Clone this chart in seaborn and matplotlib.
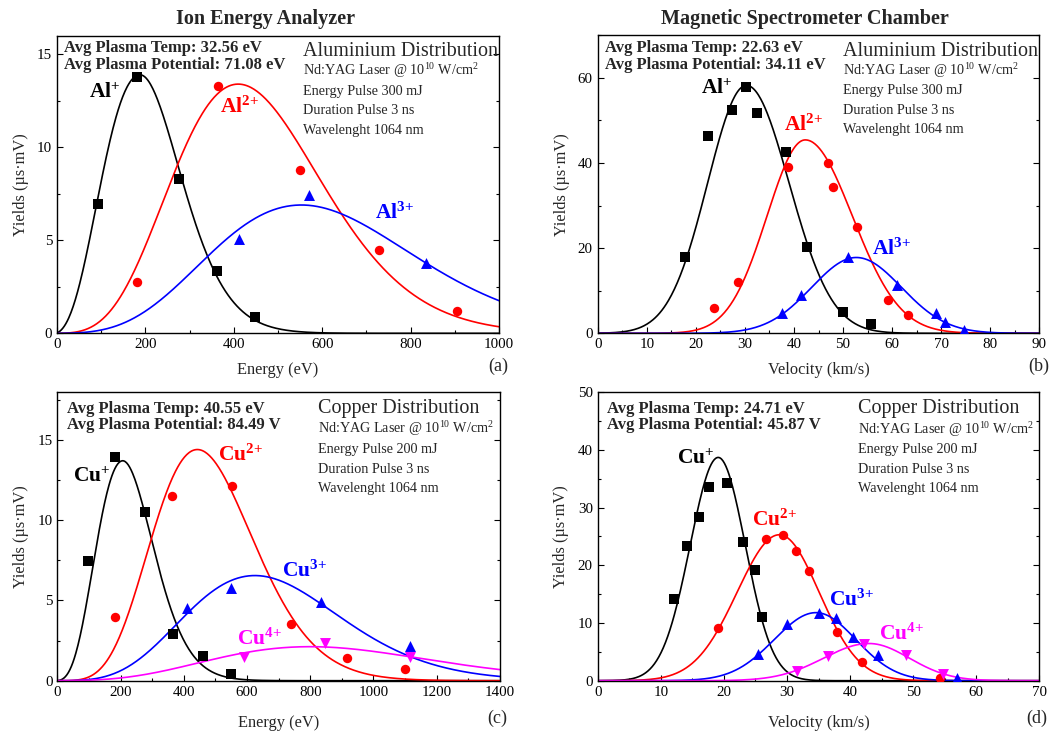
import numpy as np
import pandas as pd
import matplotlib
matplotlib.use('Agg')
import matplotlib.pyplot as plt
from matplotlib.ticker import MultipleLocator
import seaborn as sns

sns.set_theme(style="ticks")
plt.rcParams['font.family'] = ['Liberation Serif', 'DejaVu Serif']
plt.rcParams['mathtext.fontset'] = 'custom'
plt.rcParams['mathtext.rm'] = 'Liberation Serif'
plt.rcParams['mathtext.it'] = 'Liberation Serif:italic'
plt.rcParams['mathtext.bf'] = 'Liberation Serif:bold'

# (a) Ion energy analyzer, aluminium  -- measured points
ie_al1_E = [93, 181, 275, 361, 448]
ie_al1_Y = [6.93, 13.76, 8.3, 3.35, 0.88]
ie_al2_E = [181, 365, 550, 729, 904]
ie_al2_Y = [2.76, 13.28, 8.8, 4.49, 1.18]
ie_al3_E = [411, 571, 834]
ie_al3_Y = [5.07, 7.43, 3.78]
# fit curves: peak position, peak height, width left, width right (in sqrt(E))
ie_al1_fit = [188, 13.9, 3.6, 3.05]
ie_al2_fit = [410, 13.4, 4.22, 4.22]
ie_al3_fit = [553, 6.9, 5.0, 4.9]

# (b) Magnetic spectrometer, aluminium
ms_al1_v = [17.7, 22.4, 27.3, 30.2, 32.5, 38.3, 42.6, 50.0, 55.7]
ms_al1_Y = [17.8, 46.2, 52.4, 57.9, 51.8, 42.6, 20.3, 4.9, 2.2]
ms_al2_v = [23.7, 28.5, 38.8, 46.9, 47.9, 52.8, 59.1, 63.2]
ms_al2_Y = [6.0, 12.1, 39.0, 40.0, 34.3, 24.9, 7.8, 4.3]
ms_al3_v = [37.6, 41.5, 51.1, 60.9, 69.0, 70.8, 74.6]
ms_al3_Y = [4.7, 8.9, 17.8, 11.3, 4.7, 2.7, 0.8]
ms_al1_fit = [30.3, 58.2, 7.9, 8.7]
ms_al2_fit = [42.3, 45.4, 7.8, 9.6]
ms_al3_fit = [52.7, 17.8, 9.1, 9.2]

# (c) Ion energy analyzer, copper
ie_cu1_E = [97, 183, 276, 367, 461, 550]
ie_cu1_Y = [7.44, 13.92, 10.49, 2.89, 1.56, 0.39]
ie_cu2_E = [183, 364, 551, 738, 915, 1100]
ie_cu2_Y = [3.97, 11.51, 12.11, 3.51, 1.41, 0.73]
ie_cu3_E = [409, 548, 835, 1116]
ie_cu3_Y = [4.55, 5.8, 4.92, 2.16]
ie_cu4_E = [589, 847, 1116]
ie_cu4_Y = [1.45, 2.37, 1.5]
ie_cu1_fit = [207, 13.7, 3.3, 3.05]
ie_cu2_fit = [443, 14.4, 3.85, 3.85]
ie_cu3_fit = [625, 6.55, 5.0, 4.9]
ie_cu4_fit = [800, 2.12, 6.3, 6.1]

# (d) Magnetic spectrometer, copper
ms_cu1_v = [12.1, 14.2, 16.0, 17.6, 20.5, 23.1, 25.0, 26.1]
ms_cu1_Y = [14.2, 23.3, 28.3, 33.5, 34.3, 24.0, 19.2, 11.0]
ms_cu2_v = [19.1, 26.6, 29.3, 31.4, 33.5, 38.0, 41.9, 54.3]
ms_cu2_Y = [9.2, 24.5, 25.3, 22.5, 19.0, 8.5, 3.2, 0.4]
ms_cu3_v = [25.4, 30.0, 35.0, 37.8, 40.5, 44.4, 56.9]
ms_cu3_Y = [4.6, 9.8, 11.7, 10.9, 7.6, 4.5, 0.4]
ms_cu4_v = [31.6, 36.5, 42.2, 48.9, 54.7]
ms_cu4_Y = [1.6, 4.3, 6.4, 4.4, 1.2]
ms_cu1_fit = [19.1, 38.7, 4.45, 4.3]
ms_cu2_fit = [28.8, 25.3, 6.7, 6.3]
ms_cu3_fit = [34.6, 11.8, 6.6, 6.3]
ms_cu4_fit = [43.0, 6.45, 7.2, 6.4]

al_info = ['Aluminium Distribution', r'Nd:YAG Laser @ 10$^{\mathrm{10}}$ W/cm$^{\mathrm{2}}$',
           'Energy Pulse 300 mJ', 'Duration Pulse 3 ns', 'Wavelenght 1064 nm']
cu_info = ['Copper Distribution', r'Nd:YAG Laser @ 10$^{\mathrm{10}}$ W/cm$^{\mathrm{2}}$',
           'Energy Pulse 200 mJ', 'Duration Pulse 3 ns', 'Wavelenght 1064 nm']
charges = ['{+}', '2{+}', '3{+}', '4{+}']

COLORS = ['black', '#ff0000', '#0000ff', '#ff00ff']
MARKERS = ['s', 'o', '^', 'v']
MSIZE = {'s': 52, 'o': 46, '^': 62, 'v': 62}


def fit_curve(x, fit, energy):
    # split gaussian, in sqrt(E) for energy spectra, in v for velocity spectra
    xp, amp, sl, sr = fit
    g = np.sqrt(x) if energy else x
    gp = np.sqrt(xp) if energy else xp
    s = np.where(g < gp, sl, sr)
    return amp * np.exp(-(g - gp) ** 2 / (2 * s ** 2))


def draw_panel(ax, series, fits, xmax, energy):
    grid = np.linspace(0, xmax, 600)
    for i, fit in enumerate(fits):
        df = pd.DataFrame({'x': grid, 'y': fit_curve(grid, fit, energy)})
        sns.lineplot(data=df, x='x', y='y', color=COLORS[i], lw=1.2,
                     estimator=None, ax=ax, zorder=2)
    for i, (xs, ys) in enumerate(series):
        df = pd.DataFrame({'x': xs, 'y': ys})
        sns.scatterplot(data=df, x='x', y='y', marker=MARKERS[i], color=COLORS[i],
                        s=MSIZE[MARKERS[i]], linewidth=0, ax=ax, zorder=3)


def ion_labels(ax, elem, pos):
    for i, (x, y) in enumerate(pos):
        ax.text(x, y, r'$\mathbf{%s^{%s}}$' % (elem, charges[i]), color=COLORS[i],
                fontsize=15.5, ha='center', va='center')


def style_axes(ax, xmax, xmaj, ymax, ymaj, xlabel, xpad):
    ax.set_xlim(0, xmax)
    ax.set_ylim(0, ymax)
    ax.xaxis.set_major_locator(MultipleLocator(xmaj))
    ax.xaxis.set_minor_locator(MultipleLocator(xmaj / 2))
    ax.yaxis.set_major_locator(MultipleLocator(ymaj))
    ax.yaxis.set_minor_locator(MultipleLocator(ymaj / 2))
    ax.tick_params(which='both', direction='in', right=True, top=False,
                   labelsize=10.8, colors='black', width=0.8)
    ax.tick_params(which='major', length=4)
    ax.tick_params(which='minor', length=2.5)
    for sp in ax.spines.values():
        sp.set_visible(True)
        sp.set_color('black')
        sp.set_linewidth(1.0)
    ax.set_xlabel(xlabel, fontsize=11.8, labelpad=xpad)
    ax.set_ylabel('Yields (µs·mV)', fontsize=11.8, labelpad=6)


def info_text(ax, temp, pot, lines, left_x, right_x, ytop):
    ax.text(left_x, ytop[0], temp, transform=ax.transAxes, fontsize=12.0,
            fontweight='bold', va='baseline')
    ax.text(left_x, ytop[1], pot, transform=ax.transAxes, fontsize=12.0,
            fontweight='bold', va='baseline')
    ax.text(right_x, ytop[2], lines[0], transform=ax.transAxes, fontsize=14.5, va='baseline')
    for k, ln in enumerate(lines[1:]):
        ax.text(right_x, ytop[3] - k * ytop[4], ln, transform=ax.transAxes,
                fontsize=10.2, va='baseline')


fig = plt.figure(figsize=(10.51, 7.31), dpi=100)
ax_a = fig.add_axes([0.0542, 0.544, 0.4206, 0.4071])
ax_b = fig.add_axes([0.5687, 0.544, 0.4202, 0.4080])
ax_c = fig.add_axes([0.0545, 0.0688, 0.4212, 0.3953])
ax_d = fig.add_axes([0.5687, 0.0688, 0.4202, 0.3946])

# (a)
draw_panel(ax_a, [(ie_al1_E, ie_al1_Y), (ie_al2_E, ie_al2_Y), (ie_al3_E, ie_al3_Y)],
           [ie_al1_fit, ie_al2_fit, ie_al3_fit], 1000, True)
style_axes(ax_a, 1000, 200, 16, 5, 'Energy (eV)', 8)
ax_a.text(0.472, 1.022, 'Ion Energy Analyzer', transform=ax_a.transAxes, ha='center',
          va='bottom', fontsize=14.5, fontweight='bold')
info_text(ax_a, 'Avg Plasma Temp: 32.56 eV', 'Avg Plasma Potential: 71.08 eV', al_info,
          0.016, 0.556, [0.944, 0.887, 0.932, 0.868, 0.0655])
ion_labels(ax_a, 'Al', [(108, 12.9), (414, 12.15), (764, 6.45)])
ax_a.text(0.998, -0.11, '(a)', transform=ax_a.transAxes, ha='center', va='center', fontsize=13)

# (b)
draw_panel(ax_b, [(ms_al1_v, ms_al1_Y), (ms_al2_v, ms_al2_Y), (ms_al3_v, ms_al3_Y)],
           [ms_al1_fit, ms_al2_fit, ms_al3_fit], 90, False)
style_axes(ax_b, 90, 10, 70, 20, 'Velocity (km/s)', 8)
ax_b.yaxis.set_minor_locator(MultipleLocator(10))
ax_b.text(0.469, 1.022, 'Magnetic Spectrometer Chamber', transform=ax_b.transAxes, ha='center',
          va='bottom', fontsize=14.5, fontweight='bold')
info_text(ax_b, 'Avg Plasma Temp: 22.63 eV', 'Avg Plasma Potential: 34.11 eV', al_info,
          0.0165, 0.556, [0.942, 0.885, 0.930, 0.866, 0.0652])
ion_labels(ax_b, 'Al', [(24.3, 57.3), (42.0, 48.9), (59.8, 19.8)])
ax_b.text(0.998, -0.11, '(b)', transform=ax_b.transAxes, ha='center', va='center', fontsize=13)

# (c)
draw_panel(ax_c, [(ie_cu1_E, ie_cu1_Y), (ie_cu2_E, ie_cu2_Y), (ie_cu3_E, ie_cu3_Y), (ie_cu4_E, ie_cu4_Y)],
           [ie_cu1_fit, ie_cu2_fit, ie_cu3_fit, ie_cu4_fit], 1400, True)
style_axes(ax_c, 1400, 200, 18, 5, 'Energy (eV)', 12)
info_text(ax_c, 'Avg Plasma Temp: 40.55 eV', 'Avg Plasma Potential: 84.49 V', cu_info,
          0.0226, 0.59, [0.927, 0.870, 0.925, 0.856, 0.068])
ion_labels(ax_c, 'Cu', [(110, 12.7), (578, 14.03), (783, 6.82), (641, 2.6)])
ax_c.text(0.994, -0.129, '(c)', transform=ax_c.transAxes, ha='center', va='center', fontsize=13)

# (d)
draw_panel(ax_d, [(ms_cu1_v, ms_cu1_Y), (ms_cu2_v, ms_cu2_Y), (ms_cu3_v, ms_cu3_Y), (ms_cu4_v, ms_cu4_Y)],
           [ms_cu1_fit, ms_cu2_fit, ms_cu3_fit, ms_cu4_fit], 70, False)
style_axes(ax_d, 70, 10, 50, 10, 'Velocity (km/s)', 12)
info_text(ax_d, 'Avg Plasma Temp: 24.71 eV', 'Avg Plasma Potential: 45.87 V', cu_info,
          0.0218, 0.59, [0.929, 0.872, 0.927, 0.857, 0.068])
ion_labels(ax_d, 'Cu', [(15.6, 38.4), (28.0, 27.9), (40.2, 14.0), (48.2, 8.0)])
ax_d.text(0.994, -0.129, '(d)', transform=ax_d.transAxes, ha='center', va='center', fontsize=13)

fig.savefig('out.png', dpi=100)
plt.close(fig)
